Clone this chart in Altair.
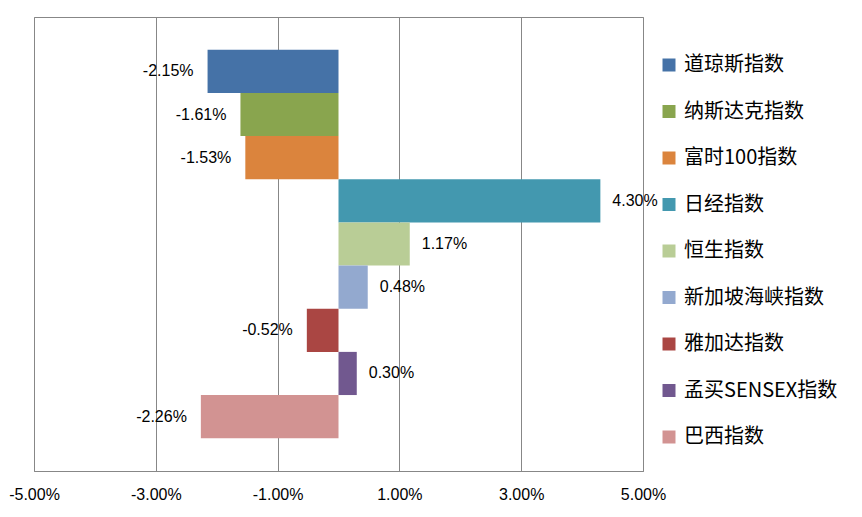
import altair as alt
import pandas as pd

names = ["道琼斯指数", "纳斯达克指数", "富时100指数", "日经指数", "恒生指数",
         "新加坡海峡指数", "雅加达指数", "孟买SENSEX指数", "巴西指数"]
values = [-2.15, -1.61, -1.53, 4.30, 1.17, 0.48, -0.52, 0.30, -2.26]
colors = ["#4572A7", "#89A54E", "#DB843D", "#4398AF", "#B9CD96",
          "#93A9CF", "#AA4643", "#71588F", "#D29392"]
tick_values = [-5, -3, -1, 1, 3, 5]

df = pd.DataFrame({"name": names, "value": values})

grid = "#878787"
fmt = "replace(format(datum.value/100, '.2%'), '\u2212', '-')"

x_enc = alt.X("value:Q",
              scale=alt.Scale(domain=[-5, 5], nice=False, zero=False),
              axis=alt.Axis(values=tick_values, title=None, grid=True,
                            gridColor=grid, gridWidth=1, domainColor=grid,
                            ticks=False, labelPadding=15, labelFontSize=16,
                            labelFlush=False, labelOverlap=False,
                            labelFont="Liberation Sans", labelColor="#000000",
                            labelExpr=fmt))
y_enc = alt.Y("name:N", sort=names, axis=None,
              scale=alt.Scale(paddingInner=0, paddingOuter=0.76))

bars = alt.Chart(df).mark_bar(strokeWidth=0).encode(
    x=x_enc,
    x2=alt.X2(datum=0),
    y=y_enc,
    color=alt.Color("name:N", sort=names,
                    scale=alt.Scale(domain=names, range=colors),
                    legend=alt.Legend(title=None, orient="none", legendX=625, legendY=38,
                                      symbolType="square", symbolSize=169,
                                      symbolStrokeWidth=0, labelFontSize=20,
                                      labelFont="Noto Sans CJK SC", labelColor="#000000",
                                      labelOffset=5, rowPadding=26.5, padding=0,
                                      labelLimit=300)),
)

base = alt.Chart(df).transform_calculate(label=fmt)

neg_text = base.transform_filter("datum.value < 0").mark_text(
    align="right", baseline="middle", dx=-14, fontSize=16,
    font="Liberation Sans", color="#000000"
).encode(x=alt.X("value:Q"), y=alt.Y("name:N", sort=names), text="label:N")

pos_text = base.transform_filter("datum.value >= 0").mark_text(
    align="left", baseline="middle", dx=12, fontSize=16,
    font="Liberation Sans", color="#000000"
).encode(x=alt.X("value:Q"), y=alt.Y("name:N", sort=names), text="label:N")

chart = alt.layer(bars, neg_text, pos_text).properties(
    width=609, height=454,
    padding={"left": 0, "top": 9, "right": 0, "bottom": 0},
    background="#ffffff",
).configure_view(stroke=grid, strokeWidth=1)

chart.save("out.html", embed_options={"renderer": "svg", "actions": False})
